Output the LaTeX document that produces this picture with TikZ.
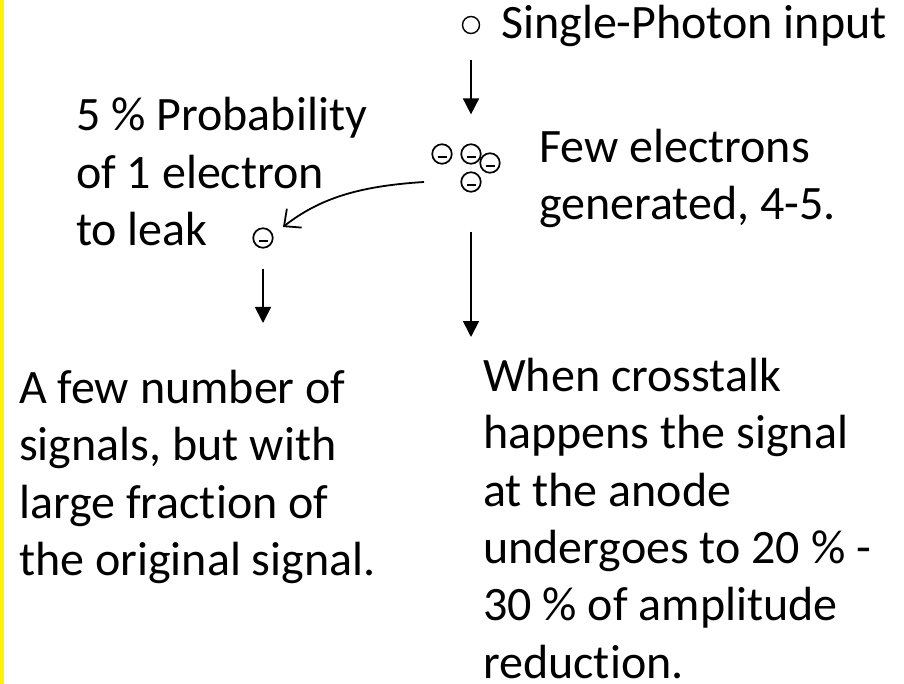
\documentclass[tikz,border=0pt]{standalone}
\usepackage{fontspec}
\setmainfont{Carlito}[Ligatures=NoCommon]
\usetikzlibrary{arrows.meta}
\begin{document}
\begin{tikzpicture}[x=1pt,y=-1pt,
  txt/.style={anchor=north west, inner sep=0pt, align=left,
    font=\fontsize{48}{57.4}\selectfont},
  electron/.style={circle, draw, line width=1.7pt, minimum size=19.5pt, inner sep=0pt,
    path picture={\draw[line width=2pt] ([xshift=-4.5pt,yshift=-3.5pt]path picture bounding box.center) -- ++(9pt,0pt);}},
  photonball/.style={circle, draw, line width=1.4pt, minimum size=17pt, inner sep=0pt},
  downarr/.style={line width=1.8pt, -{Triangle[width=16pt,length=16pt]}},
  curvarr/.style={line width=1.8pt, -{Straight Barb[length=13pt,width=24pt,line width=1.8pt]}}
]
\useasboundingbox (0,0) rectangle (904,684);
\fill[yellow] (0,0) rectangle (4,684);
\newcommand{\firstline}{\rule{0pt}{40pt}}

% nodes
\node[photonball] (photon) at (471,25) {};
\node[txt] (ptext) at (501,-2) {\firstline Single-Photon input};

\node[electron] (e1) at (442,154) {};
\node[electron] (e2) at (471,154) {};
\node[electron] (e3) at (490,163) {};
\node[electron] (e4) at (471,182) {};
\node[txt] (etext) at (539,122) {\firstline Few electrons\\generated, 4-5.};

\node[electron] (leak) at (263,238) {};
\node[txt] (probtext) at (76,90.7) {\firstline 5 \% Probability\\of 1 electron\\to leak};

\node[txt] (lefttext) at (19,363) {\firstline A few number of\\signals, but with\\large fraction of\\the original signal.};
\node[txt] (righttext) at (483,351) {\firstline When crosstalk\\happens the signal\\at the anode\\undergoes to 20 \% -\\30 \% of amplitude\\reduction.};

\coordinate (curvestart) at (424,182);
\coordinate (curveend) at (283,227);
\coordinate (leakend) at (263,323);
\coordinate (mainend) at (471,337);

% connectors
\draw[downarr, shorten <=26pt, shorten >=29pt] (photon) -- (e2);
\draw[curvarr] (curvestart) .. controls (360,186) and (320,198) .. (curveend);
\draw[downarr, shorten <=20pt] (leak) -- (leakend);
\draw[downarr, shorten <=39pt] (e4) -- (mainend);
\end{tikzpicture}
\end{document}
